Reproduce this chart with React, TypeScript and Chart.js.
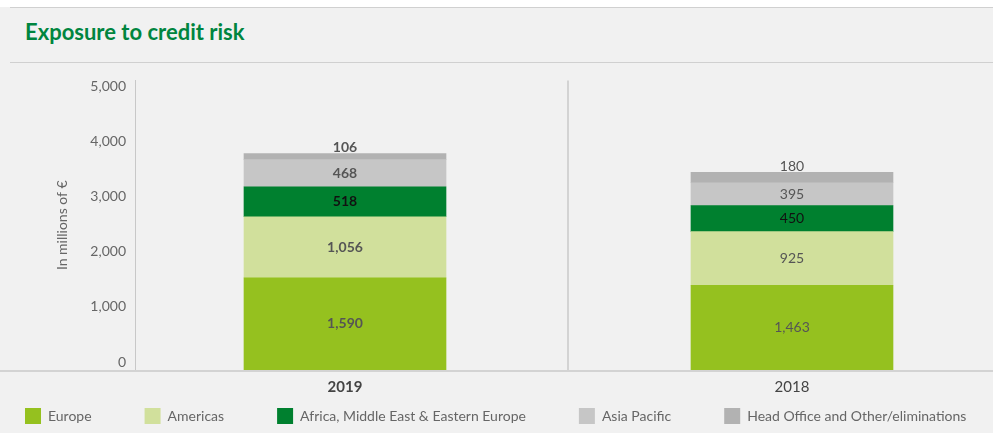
import React, { useEffect, useRef } from 'react';
import { Chart, registerables } from 'chart.js';

Chart.register(...registerables);

// ---- data ----
const categories = ['2019', '2018'];
const seriesNames = [
  'Europe',
  'Americas',
  'Africa, Middle East & Eastern Europe',
  'Asia Pacific',
  'Head Office and Other/eliminations',
];
const europe = [1590, 1463];
const americas = [1056, 925];
const africaMEEE = [518, 450];
const asiaPacific = [468, 395];
const headOffice = [106, 180];
const yTickValues = [0, 1000, 2000, 3000, 4000, 5000];

// ---- styles ----
const FONT = 'Lato, "Open Sans", sans-serif';
const seriesColors = ['#95c11f', '#d1e09c', '#00802f', '#c6c6c6', '#b2b2b2'];
const labelColors = ['#555555', '#555555', '#111111', '#555555', '#555555'];

const fmt = (v: number) => v.toLocaleString('en-US');

const segmentLabels = {
  id: 'segmentLabels',
  afterDatasetsDraw(chart: any) {
    const { ctx } = chart;
    const last = chart.data.datasets.length - 1;
    chart.data.datasets.forEach((ds: any, di: number) => {
      const meta = chart.getDatasetMeta(di);
      meta.data.forEach((bar: any, i: number) => {
        const v = ds.data[i].y;
        const { x, y, base } = bar.getProps(['x', 'y', 'base'], true);
        ctx.save();
        ctx.font = `${i === 0 ? 'bold' : 'normal'} 14px ${FONT}`;
        ctx.fillStyle = labelColors[di];
        ctx.textAlign = 'center';
        if (di === last) {
          ctx.textBaseline = 'alphabetic';
          ctx.fillText(fmt(v), x, y - 1);
        } else {
          ctx.textBaseline = 'middle';
          ctx.fillText(fmt(v), x, (y + base) / 2);
        }
        ctx.restore();
      });
    });
  },
};

const baseLine = {
  id: 'baseLine',
  afterDraw(chart: any) {
    const { ctx } = chart;
    const y0 = chart.scales.y.getPixelForValue(0);
    ctx.save();
    ctx.fillStyle = '#d3d3d3';
    ctx.fillRect(0, y0, chart.width, 2);
    ctx.restore();
  },
};

const legendPlace = {
  id: 'legendPlace',
  afterLayout(chart: any) {
    const lg = chart.legend;
    if (!lg) return;
    const P = lg.options.labels.padding;
    lg.left = 25 - P;
    lg.right = 5000;
    lg.top = 345 - P;
  },
};

export default function App() {
  const ref = useRef<HTMLCanvasElement | null>(null);

  useEffect(() => {
    if (!ref.current) return;
    const series = [europe, americas, africaMEEE, asiaPacific, headOffice];
    const xTicks: number[] = [];
    categories.forEach((_, i) => {
      if (i > 0) xTicks.push(i - 0.5);
      xTicks.push(i);
    });
    const chart = new Chart(ref.current, {
      type: 'bar',
      data: {
        datasets: series.map((vals, si) => ({
          label: seriesNames[si],
          data: vals.map((v, i) => ({ x: i, y: v })),
          backgroundColor: seriesColors[si],
          borderWidth: 0,
          barThickness: 202,
        })),
      },
      plugins: [segmentLabels, baseLine, legendPlace],
      options: {
        responsive: false,
        animation: false,
        layout: { padding: { top: 16, left: 0, right: 0, bottom: 0 } },
        plugins: {
          legend: {
            position: 'bottom',
            align: 'start',
            maxHeight: 33,
            labels: {
              boxWidth: 16,
              boxHeight: 16,
              padding: 53,
              color: '#666666',
              font: { family: FONT, size: 14 },
            },
          },
          tooltip: { enabled: false },
          title: { display: false },
        },
        scales: {
          x: {
            type: 'linear',
            stacked: true,
            offset: false,
            min: -0.4698,
            max: 1.4497,
            afterBuildTicks: (s: any) => {
              s.ticks = xTicks.map((v) => ({ value: v }));
            },
            afterFit: (s: any) => {
              s.height = 30;
            },
            ticks: {
              autoSkip: false,
              maxRotation: 0,
              padding: 8,
              color: '#444444',
              font: (c: any) => ({
                family: FONT,
                size: 15,
                weight: c.tick && c.tick.value === 0 ? 'bold' : 'normal',
              }),
              callback: (v: any) => categories[v] ?? '',
            },
            grid: {
              offset: false,
              drawTicks: false,
              lineWidth: 2,
              color: (c: any) =>
                c.tick && !Number.isInteger(c.tick.value) ? '#d3d3d3' : 'rgba(0,0,0,0)',
            },
            border: { display: false },
          },
          y: {
            type: 'linear',
            display: false,
            stacked: true,
            min: 0,
            max: 5000,
          },
          yl: {
            type: 'linear',
            axis: 'y',
            position: 'left',
            min: -144,
            max: 5108,
            afterBuildTicks: (s: any) => {
              s.ticks = yTickValues.map((v) => ({ value: v }));
            },
            afterFit: (s: any) => {
              s.width = 135;
            },
            ticks: {
              padding: 9,
              color: '#666666',
              font: { family: FONT, size: 14 },
              callback: (v: any) => fmt(Number(v)),
            },
            grid: { display: true, drawOnChartArea: false, drawTicks: false, color: 'rgba(0,0,0,0)' },
            border: { display: true, color: '#c8c8c8', width: 1 },
            title: {
              display: true,
              text: 'In millions of €',
              color: '#666666',
              font: { family: FONT, size: 14 },
              padding: { top: 54, bottom: 0 },
            },
          },
        },
      } as any,
    });
    return () => chart.destroy();
  }, []);

  return (
    <div
      style={{
        position: 'absolute',
        left: 0,
        top: 0,
        width: 993,
        height: 433,
        background: '#f1f1f1',
        overflow: 'hidden',
        fontFamily: FONT,
      }}
    >
      <div style={{ position: 'absolute', left: 0, top: 0, width: 993, height: 7, background: '#ffffff' }} />
      <div style={{ position: 'absolute', left: 10, top: 7, right: 0, height: 1, background: '#d0d0d0' }} />
      <div
        style={{
          position: 'absolute',
          left: 25,
          top: 19,
          fontSize: 22,
          lineHeight: '26px',
          fontWeight: 'bold',
          color: '#00853f',
          whiteSpace: 'nowrap',
        }}
      >
        Exposure to credit risk
      </div>
      <div style={{ position: 'absolute', left: 10, top: 62, right: 0, height: 1, background: '#d0d0d0' }} />
      <div style={{ position: 'absolute', left: 0, top: 63, width: 993, height: 370 }}>
        <canvas ref={ref} width={993} height={370} style={{ width: 993, height: 370, display: 'block' }} />
      </div>
    </div>
  );
}
